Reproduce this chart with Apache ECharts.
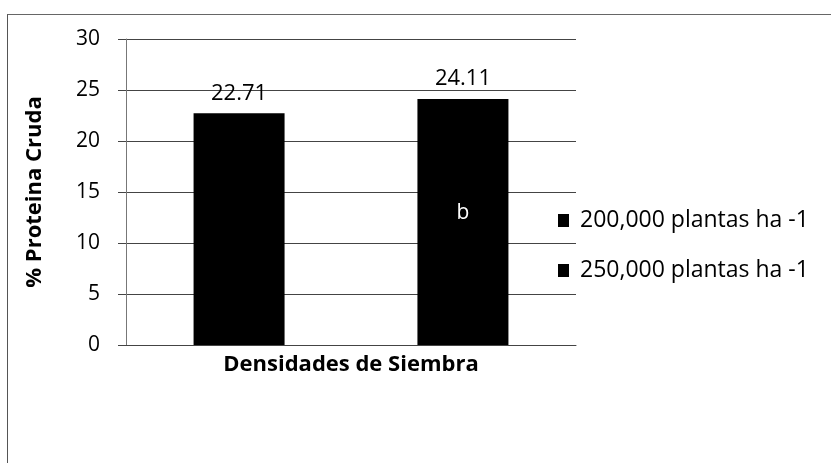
<!DOCTYPE html>
<html>
<head>
<meta charset="utf-8">
<script src="https://cdn.jsdelivr.net/npm/echarts@6/dist/echarts.min.js"></script>
<style>
  html, body { margin: 0; padding: 0; background: #fff; }
  #wrap { position: relative; width: 831px; height: 463px; overflow: hidden; }
  #chart { position: absolute; left: 0; top: 0; width: 831px; height: 463px; }
  #frame { position: absolute; left: 7px; top: 14px; width: 900px; height: 600px;
           border-left: 1px solid #555; border-top: 1px solid #666; pointer-events: none; }
</style>
</head>
<body>
<div id="wrap">
  <div id="chart"></div>
  <div id="frame"></div>
</div>
<script>
// ---- data ----
const categories = [''];
const seriesNames = ['200,000 plantas ha -1', '250,000 plantas ha -1'];
const values200 = [22.71];
const values250 = [24.11];
const letters250 = ['b'];
const letterValue250 = [12.9];
const yTicks = [0, 5, 10, 15, 20, 25, 30];

const FONT = 'Open Sans';
const chart = echarts.init(document.getElementById('chart'), null, { renderer: 'canvas' });

const labelTop = {
  show: true, position: 'top', distance: 9,
  fontFamily: FONT, fontSize: 22, color: '#000',
  formatter: p => p.value.toFixed(2)
};

chart.setOption({
  animation: false,
  backgroundColor: '#fff',
  grid: { left: 126, right: 255, top: 39, bottom: 118, containLabel: false },
  legend: {
    orient: 'vertical',
    left: 553, top: 204,
    itemWidth: 11, itemHeight: 13, itemGap: 27,
    icon: 'rect',
    data: seriesNames,
    textStyle: { fontFamily: FONT, fontSize: 23, color: '#000', padding: [0, 0, 0, 6] }
  },
  xAxis: {
    type: 'category',
    data: categories,
    name: 'Densidades de Siembra',
    nameLocation: 'middle',
    nameGap: 9,
    nameTextStyle: { fontFamily: FONT, fontSize: 22, fontWeight: 'bold', color: '#000' },
    axisLine: { show: true, lineStyle: { color: '#444', width: 1 } },
    axisTick: { show: false },
    axisLabel: { show: false }
  },
  yAxis: {
    type: 'value',
    min: yTicks[0], max: yTicks[yTicks.length - 1], interval: 5,
    name: '% Proteina Cruda',
    nameLocation: 'middle',
    nameGap: 80,
    nameRotate: 90,
    nameTextStyle: { fontFamily: FONT, fontSize: 22, fontWeight: 'bold', color: '#000' },
    axisLine: { show: true, lineStyle: { color: '#777', width: 1 } },
    axisTick: { show: true, inside: false, length: 8, lineStyle: { color: '#444' } },
    axisLabel: { fontFamily: FONT, fontSize: 21, color: '#000', margin: 26 },
    splitLine: { show: true, lineStyle: { color: '#444', width: 1 } }
  },
  series: [
    {
      name: seriesNames[0],
      type: 'bar',
      data: values200,
      barWidth: 91,
      barGap: '146%',
      itemStyle: { color: '#000' },
      label: labelTop
    },
    {
      name: seriesNames[1],
      type: 'bar',
      data: values250,
      barWidth: 91,
      barGap: '146%',
      itemStyle: { color: '#000' },
      label: labelTop,
      markPoint: {
        symbol: 'rect', symbolSize: 0,
        data: letters250.map((t, i) => ({
          coord: [i, letterValue250[i]],
          value: t,
          label: { show: true, position: 'inside', formatter: t,
                   fontFamily: FONT, fontSize: 21, color: '#fff' }
        }))
      }
    }
  ]
});
</script>
</body>
</html>
